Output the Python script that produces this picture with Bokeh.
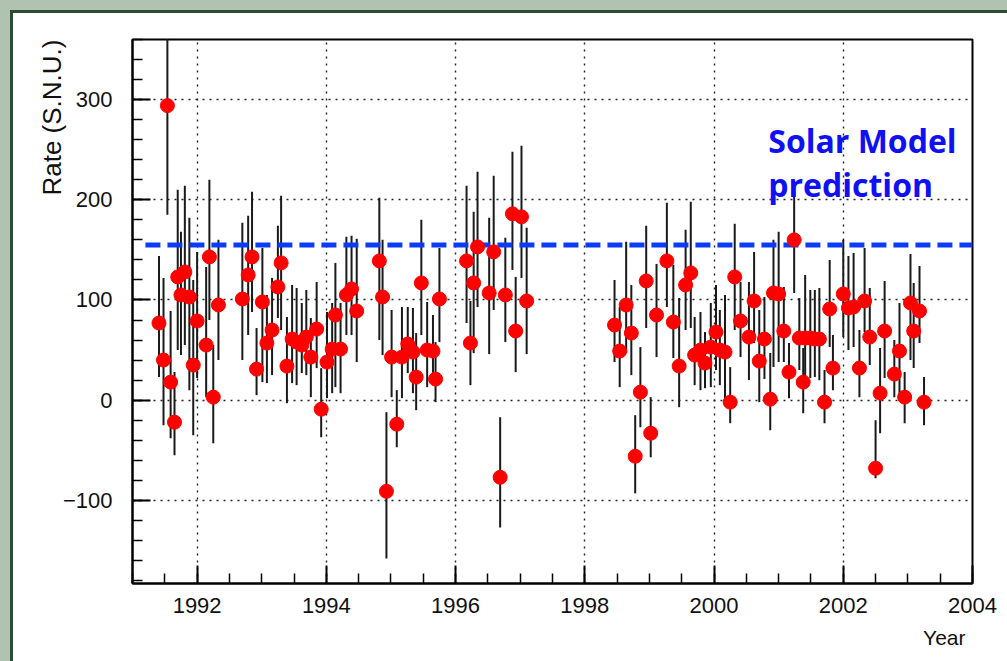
from bokeh.plotting import figure
from bokeh.models import SingleIntervalTicker, Label, Title, CustomJSTickFormatter, ColumnDataSource
from bokeh.embed import file_html
from bokeh.resources import INLINE

# Run dates (decimal year), measured rate and the lower / upper end of each error bar (SNU)
years = [
    1991.41, 1991.48, 1991.54, 1991.59, 1991.65, 1991.70, 1991.75, 1991.81, 1991.88, 1991.94,
    1992.00, 1992.14, 1992.19, 1992.25, 1992.33, 1992.70, 1992.79, 1992.85, 1992.92, 1993.01,
    1993.08, 1993.16, 1993.25, 1993.30, 1993.39, 1993.47, 1993.54, 1993.62, 1993.69, 1993.76,
    1993.85, 1993.92, 1994.01, 1994.09, 1994.14, 1994.22, 1994.31, 1994.39, 1994.47, 1994.82,
    1994.87, 1994.93, 1995.01, 1995.09, 1995.17, 1995.26, 1995.34, 1995.39, 1995.47, 1995.56,
    1995.65, 1995.69, 1995.75, 1996.17, 1996.23, 1996.28, 1996.34, 1996.52, 1996.59, 1996.69,
    1996.77, 1996.88, 1996.93, 1997.02, 1997.10,
    1998.46, 1998.54, 1998.64, 1998.72, 1998.78, 1998.86, 1998.95, 1999.02, 1999.11, 1999.27,
    1999.37, 1999.46, 1999.56, 1999.64, 1999.70, 1999.79, 1999.86, 1999.95, 2000.03, 2000.09,
    2000.17, 2000.25, 2000.32, 2000.41, 2000.54, 2000.62, 2000.70, 2000.78, 2000.87, 2000.92,
    2001.00, 2001.08, 2001.16, 2001.24, 2001.32, 2001.38, 2001.41, 2001.49, 2001.56, 2001.63,
    2001.71, 2001.79, 2001.84, 2002.00, 2002.08, 2002.16, 2002.25, 2002.33, 2002.41, 2002.50,
    2002.57, 2002.64, 2002.79, 2002.87, 2002.95, 2003.04, 2003.09, 2003.18, 2003.25,
]
rate = [
    77, 40, 294, 18, -22, 123, 105, 128, 103, 35,
    79, 55, 143, 3, 95, 101, 125, 143, 31, 98,
    57, 70, 113, 137, 34, 61, 58, 55, 63, 43,
    71, -9, 38, 51, 85, 51, 105, 111, 89, 139,
    103, -91, 43, -24, 43, 56, 48, 23, 117, 50,
    49, 21, 101, 139, 57, 117, 153, 107, 148, -77,
    105, 186, 69, 183, 99,
    75, 49, 95, 67, -56, 8, 119, -33, 85, 139,
    78, 34, 115, 127, 45, 50, 37, 53, 68, 50,
    48, -2, 123, 79, 63, 99, 39, 61, 1, 107,
    106, 69, 28, 160, 62, 18, 62, 62, 61, 61,
    -2, 91, 32, 106, 92, 93, 32, 99, 63, -68,
    7, 69, 26, 49, 3, 97, 69, 89, -2,
]
rate_lo = [
    23, -25, 185, -38, -55, 50, 45, 55, 10, -35,
    22, 3, 80, -43, 40, 40, 65, 88, 5, 18,
    17, 25, 82, 70, -3, 17, 15, 27, 25, 3,
    32, -37, 2, 7, 13, 7, 65, 65, 38, 60,
    45, -158, 3, -47, 2, 27, 7, -10, 65, 13,
    27, -2, 58, 77, 15, 47, 93, 46, 90, -127,
    58, 130, 28, 122, 46,
    38, 13, 47, 25, -93, -27, 72, -57, 43, 93,
    42, -7, 70, 72, 15, 10, 12, 13, 30, 15,
    0, -23, 70, 43, 20, 57, -2, 21, -30, 33,
    38, 38, 2, 107, 30, -13, 20, 22, 23, 20,
    -23, 53, 10, 63, 50, 53, 3, 68, 35, -78,
    -33, 22, 3, 3, -23, 40, 32, 57, -25,
]
rate_hi = [
    144, 122, 404, 89, 28, 210, 168, 214, 182, 120,
    148, 133, 220, 55, 160, 177, 184, 208, 72, 152,
    105, 122, 174, 204, 83, 115, 112, 97, 110, 82,
    118, 32, 88, 97, 137, 97, 163, 164, 161, 202,
    160, -12, 90, 10, 93, 93, 92, 67, 180, 98,
    85, 58, 152, 214, 99, 188, 228, 182, 224, -17,
    162, 248, 123, 254, 172,
    120, 93, 158, 115, -15, 53, 174, 3, 136, 197,
    135, 102, 170, 198, 83, 88, 68, 97, 115, 90,
    105, 33, 176, 118, 118, 148, 90, 103, 47, 160,
    168, 113, 57, 208, 102, 52, 125, 110, 110, 112,
    30, 140, 65, 160, 144, 147, 70, 152, 112, -20,
    52, 119, 60, 97, 28, 146, 117, 134, 23,
]

# Standard Solar Model prediction drawn as a dashed reference line
SSM_RATE = 155
SSM_START = 1991.2
SSM_END = 2004.0

PANEL_GREEN = "#2c4b33"
PAGE_BG = "#b2c2b0"
AXIS_FONT = "Liberation Sans Narrow, Liberation Sans, Arial"
TEXT_COLOR = "#111111"

src = ColumnDataSource(dict(year=years, rate=rate, lo=rate_lo, hi=rate_hi))

# transparent canvas over a white page element; inset shadows paint the
# grey-green surround and the dark green panel edge on the left and top
p = figure(
    width=1007, height=661,
    x_range=(1991, 2004), y_range=(-183, 360),
    output_backend="svg", toolbar_location=None,
    min_border_left=132, min_border_right=35, min_border_top=39, min_border_bottom=78,
    border_fill_color=None, background_fill_color="white",
    outline_line_color="black", outline_line_width=2,
)
p.styles = {
    "background-color": "white",
    "box-shadow": f"inset 10px 10px 0 0 {PAGE_BG}, inset 13px 13px 0 0 {PANEL_GREEN}",
}

# axes: ticks drawn inward, ROOT style
p.xaxis.ticker = SingleIntervalTicker(interval=2, num_minor_ticks=4)
p.yaxis.ticker = SingleIntervalTicker(interval=100, num_minor_ticks=5)
p.yaxis.formatter = CustomJSTickFormatter(
    code="return tick < 0 ? '\u2212' + Math.abs(tick) : tick.toString();")
for ax in (p.xaxis, p.yaxis):
    ax.axis_line_color = "black"
    ax.axis_line_width = 2
    ax.major_tick_in = 18
    ax.major_tick_out = 0
    ax.minor_tick_in = 10
    ax.minor_tick_out = 0
    ax.major_tick_line_color = "black"
    ax.major_tick_line_width = 2
    ax.minor_tick_line_color = "black"
    ax.minor_tick_line_width = 1.5
    ax.major_label_text_font = AXIS_FONT
    ax.major_label_text_font_size = "22px"
    ax.major_label_text_color = TEXT_COLOR
p.xaxis.major_label_standoff = 14
p.yaxis.major_label_standoff = 20

for g in (p.xgrid, p.ygrid):
    g.grid_line_color = "#222222"
    g.grid_line_dash = "2 5"
    g.grid_line_width = 1.4

# axis titles, pushed to the far ends of their axes
p.add_layout(Title(text="Rate (S.N.U.)", align="right", text_font=AXIS_FONT,
                   text_font_size="26px", text_font_style="normal",
                   text_color=TEXT_COLOR, standoff=-15), "left")
p.add_layout(Title(text="Year", align="right", text_font=AXIS_FONT,
                   text_font_size="21px", text_font_style="normal",
                   text_color=TEXT_COLOR, standoff=16, offset=7), "below")

# error bars
p.segment(x0="year", y0="lo", x1="year", y1="hi", source=src,
          line_color="#1a1a1a", line_width=2)

# solar model prediction
p.segment(x0=[SSM_START], y0=[SSM_RATE], x1=[SSM_END], y1=[SSM_RATE],
          line_color="#0a3cf5", line_width=5, line_dash="15 7")

# measured rates
p.scatter(x="year", y="rate", source=src, size=14,
          fill_color="#ff0000", line_color="#ff0000", line_width=1)

for txt, yb in (("Solar Model", 259), ("prediction", 215)):
    p.add_layout(Label(x=2000.84, y=yb, text=txt,
                       text_align="left", text_baseline="alphabetic",
                       text_font="Open Sans", text_font_style="bold",
                       text_font_size="32px", text_color="#1010f5"))

open("out.html", "w").write(file_html(p, INLINE))
